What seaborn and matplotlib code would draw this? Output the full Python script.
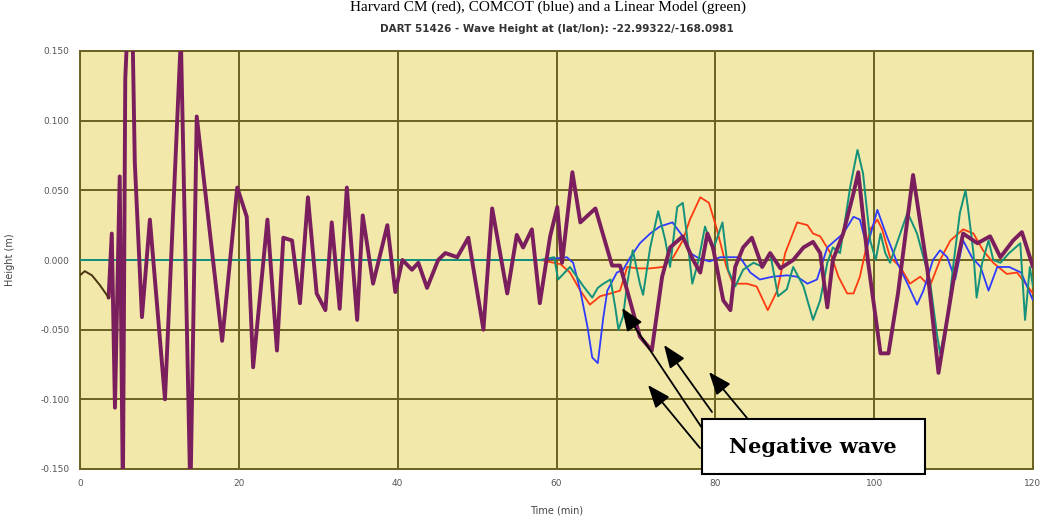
import numpy as np
import pandas as pd
import matplotlib
matplotlib.use("Agg")
import matplotlib.pyplot as plt
from matplotlib.patches import Rectangle
import seaborn as sns

# ---------------- data (time in min, height in m) ----------------
pre_t = [0.0, 0.6, 1.5, 2.5, 3.6]
pre_h = [-0.011, -0.008, -0.011, -0.018, -0.027]

obs_t = [3.6, 4.0, 4.4, 5.0, 5.4, 5.7, 6.0, 6.6, 6.9, 7.8, 8.8, 10.7, 12.7, 13.9, 14.7,
         17.9, 19.8, 21.0, 21.8, 23.6, 24.8, 25.6, 26.7, 27.7, 28.7, 29.8, 30.9, 31.7,
         32.7, 33.6, 34.9, 35.6, 36.9, 38.7, 39.7, 40.6, 41.8, 42.6, 43.7, 45.1, 46.0,
         47.5, 48.9, 50.8, 51.9, 53.8, 55.0, 55.8, 56.9, 57.9, 59.2, 60.1, 60.7, 62.0,
         63.0, 64.9, 67.0, 68.0, 68.9, 70.5, 72.0, 73.3, 74.3, 75.9, 77.2, 78.1, 79.0,
         79.7, 81.0, 81.9, 82.5, 83.5, 84.6, 85.9, 86.9, 88.2, 89.8, 91.1, 92.3, 93.2,
         94.1, 94.8, 96.1, 97.4, 98.0, 99.2, 100.8, 101.8, 103.0, 104.9, 106.7, 108.1,
         110.0, 111.2, 113.0, 114.6, 115.9, 117.5, 118.6, 120.0]
obs_h = [-0.027, 0.019, -0.106, 0.060, -0.170, 0.130, 0.170, 0.170, 0.070, -0.041, 0.029,
         -0.100, 0.160, -0.170, 0.103, -0.058, 0.052, 0.031, -0.077, 0.029, -0.065, 0.016,
         0.014, -0.031, 0.045, -0.024, -0.036, 0.027, -0.035, 0.052, -0.043, 0.032, -0.017,
         0.025, -0.023, 0.000, -0.007, -0.002, -0.020, 0.000, 0.005, 0.002, 0.016, -0.050,
         0.037, -0.024, 0.018, 0.009, 0.022, -0.031, 0.017, 0.038, -0.002, 0.063, 0.027,
         0.037, -0.004, -0.004, -0.022, -0.055, -0.065, -0.012, 0.009, 0.017, 0.000,
         -0.009, 0.019, 0.009, -0.029, -0.036, -0.005, 0.009, 0.016, -0.005, 0.005, -0.006,
         0.000, 0.009, 0.013, 0.005, -0.034, 0.000, 0.019, 0.048, 0.063, 0.000, -0.067,
         -0.067, -0.024, 0.061, -0.007, -0.081, -0.014, 0.019, 0.012, 0.017, 0.002, 0.014,
         0.020, -0.005]

red_t = [0, 58.0, 60.5, 61.7, 63.0, 64.2, 65.5, 66.8, 68.0, 68.9, 70.2, 71.8, 73.4, 74.7,
         75.9, 76.8, 78.1, 79.2, 80.2, 81.4, 82.2, 84.0, 85.2, 86.6, 87.8, 88.8, 90.3, 91.6,
         92.3, 93.2, 94.5, 95.5, 96.6, 97.4, 98.2, 99.5, 100.4, 101.0, 102.0, 103.3, 104.5,
         105.8, 107.0, 108.3, 109.6, 111.2, 112.5, 113.7, 115.0, 116.7, 118.0, 120.0]
red_h = [0, 0, -0.003, -0.009, -0.022, -0.032, -0.026, -0.024, -0.022, -0.005, -0.006,
         -0.006, -0.005, 0.002, 0.014, 0.029, 0.045, 0.041, 0.022, -0.005, -0.017, -0.017,
         -0.019, -0.036, -0.022, 0.005, 0.027, 0.025, 0.019, 0.017, 0.005, -0.012, -0.024,
         -0.024, -0.012, 0.022, 0.029, 0.022, 0.002, -0.005, -0.017, -0.012, -0.019, 0.000,
         0.014, 0.022, 0.019, 0.007, -0.002, -0.010, -0.009, -0.024]

blue_t = [0, 58.0, 61.3, 62.1, 63.0, 63.9, 64.5, 65.2, 65.9, 66.4, 67.6, 68.4, 69.3, 70.5,
          71.8, 73.0, 74.6, 75.9, 76.8, 78.0, 79.3, 80.6, 83.1, 84.4, 85.6, 87.2, 89.0, 90.3,
          91.6, 92.8, 94.1, 96.1, 97.4, 98.2, 99.1, 100.4, 101.6, 102.9, 104.2, 105.4, 106.2,
          107.4, 108.3, 109.2, 110.2, 111.2, 112.3, 113.4, 114.4, 115.5, 117.0, 118.5, 120.0]
blue_h = [0, 0, 0.002, -0.002, -0.022, -0.048, -0.070, -0.074, -0.041, -0.022, -0.009,
          -0.007, 0.002, 0.012, 0.019, 0.024, 0.027, 0.017, 0.005, 0.001, -0.001, 0.002,
          0.002, -0.009, -0.014, -0.012, -0.011, -0.012, -0.017, -0.014, 0.009, 0.019, 0.031,
          0.029, 0.009, 0.036, 0.017, -0.002, -0.017, -0.032, -0.022, 0.000, 0.007, 0.002,
          -0.014, 0.014, 0.002, -0.005, -0.022, -0.005, -0.005, -0.009, -0.029]

green_t = [0, 58.0, 59.7, 60.2, 61.7, 63.4, 64.5, 65.2, 65.9, 66.8, 67.4, 67.8, 68.4, 68.9,
           69.6, 70.5, 70.9, 71.8, 72.8, 73.7, 74.3, 75.2, 75.9, 76.4, 77.1, 77.9, 78.7, 79.7,
           80.9, 81.6, 82.5, 83.5, 84.8, 86.0, 86.9, 87.9, 89.0, 89.8, 91.1, 92.3, 93.2, 94.1,
           94.8, 95.7, 97.0, 97.9, 98.6, 99.5, 100.2, 100.8, 101.4, 102.0, 104.2, 105.4, 106.2,
           107.0, 107.9, 108.3, 109.2, 110.0, 110.8, 111.5, 111.8, 112.5, 112.9, 113.6, 114.4,
           115.0, 115.9, 117.0, 118.4, 119.0, 119.6, 120.0]
green_h = [0, 0, 0.002, -0.014, -0.005, -0.019, -0.027, -0.020, -0.017, -0.014, -0.034,
           -0.050, -0.040, -0.017, 0.007, -0.017, -0.025, 0.009, 0.035, 0.014, -0.005, 0.038,
           0.041, 0.019, -0.017, 0.000, 0.024, 0.007, 0.027, -0.007, -0.019, -0.007, -0.002,
           -0.005, 0.005, -0.026, -0.021, -0.005, -0.019, -0.043, -0.029, -0.002, 0.009, 0.005,
           0.053, 0.079, 0.062, 0.014, 0.000, 0.019, 0.005, -0.002, 0.034, 0.019, 0.002, -0.014,
           -0.053, -0.067, -0.043, -0.002, 0.034, 0.050, 0.038, 0.005, -0.027, -0.002, 0.014,
           0.000, -0.002, 0.005, 0.012, -0.043, -0.005, -0.019]

x_ticks = [0, 20, 40, 60, 80, 100, 120]
y_ticks = [-0.150, -0.100, -0.050, 0.000, 0.050, 0.100, 0.150]

title = "DART 51426 - Wave Height at (lat/lon): -22.99322/-168.0981"
caption = "Harvard CM (red), COMCOT (blue) and a Linear Model (green)"
note = "Negative wave"

# ---------------- figure ----------------
sns.set_style("white")
W, H = 1044, 519
fig = plt.figure(figsize=(W / 100, H / 100), dpi=100)
ax = fig.add_axes([80 / W, (H - 469) / H, 953 / W, 418 / H])
ax.set_facecolor("#F1E8AA")

grid_c = "#6B6222"
for v in x_ticks:
    ax.axvline(v, color=grid_c, lw=1.4, zorder=1)
for v in y_ticks:
    ax.axhline(v, color=grid_c, lw=1.4, zorder=1)

def frame(t, h):
    return pd.DataFrame({"t": t, "h": h})

sns.lineplot(data=frame(red_t, red_h), x="t", y="h", ax=ax, color="#FF3A10", lw=1.3,
             zorder=3, estimator=None)
sns.lineplot(data=frame(blue_t, blue_h), x="t", y="h", ax=ax, color="#2F3BFF", lw=1.3,
             zorder=3, estimator=None)
sns.lineplot(data=frame(green_t, green_h), x="t", y="h", ax=ax, color="#14917A", lw=1.4,
             zorder=3, estimator=None)
sns.lineplot(data=frame(obs_t, obs_h), x="t", y="h", ax=ax, color="#7A1E5E", lw=2.8,
             zorder=4, estimator=None)
sns.lineplot(data=frame(pre_t, pre_h), x="t", y="h", ax=ax, color="#4A3410", lw=1.4,
             zorder=4, estimator=None)

ax.set_xlim(0, 120)
ax.set_ylim(-0.15, 0.15)
ax.set_xticks(x_ticks)
ax.set_xticklabels([str(v) for v in x_ticks])
ax.set_yticks(y_ticks)
ax.set_yticklabels([f"{v:.3f}" for v in y_ticks])
ax.tick_params(axis="both", labelsize=6.5, labelcolor="#555555", colors="#777777",
               length=4, width=0.8, direction="out")
for s in ax.spines.values():
    s.set_color(grid_c)
    s.set_linewidth(1.4)
ax.set_xlabel("Time (min)", fontsize=7, color="#444444", labelpad=12)
ax.set_ylabel("Height (m)", fontsize=7, color="#444444", labelpad=18)
ax.set_title(title, fontsize=7.5, color="#333333", fontweight="bold", pad=14)

# caption line at the very top (kept fully inside the picture)
fig.text(0.525, (H - 1) / H, caption, ha="center", va="top", fontsize=11,
         family="Liberation Serif", color="black")

# annotation box with arrows (figure pixel coords)
def fp(px, py):
    return (px, H - py)

arrows = [((702, 428), (622, 308)),
          ((712, 412), (664, 345)),
          ((747, 418), (709, 372)),
          ((700, 448), (648, 385))]
for start, tip in arrows:
    ax.annotate("", xy=fp(*tip), xycoords="figure pixels",
                xytext=fp(*start), textcoords="figure pixels",
                arrowprops=dict(arrowstyle="-|>,head_length=1.4,head_width=0.55",
                                color="black", lw=1.3, shrinkA=0, shrinkB=0),
                zorder=6, annotation_clip=False)

fig.patches.append(Rectangle((702 / W, (H - 474) / H), 223 / W, 55 / H,
                             transform=fig.transFigure, facecolor="white",
                             edgecolor="black", lw=1.5, zorder=7))
fig.text(813 / W, (H - 447) / H, note, ha="center", va="center", fontsize=15,
         fontweight="bold", family="DejaVu Serif", color="black", zorder=8)

fig.savefig("out.png", dpi=100)
